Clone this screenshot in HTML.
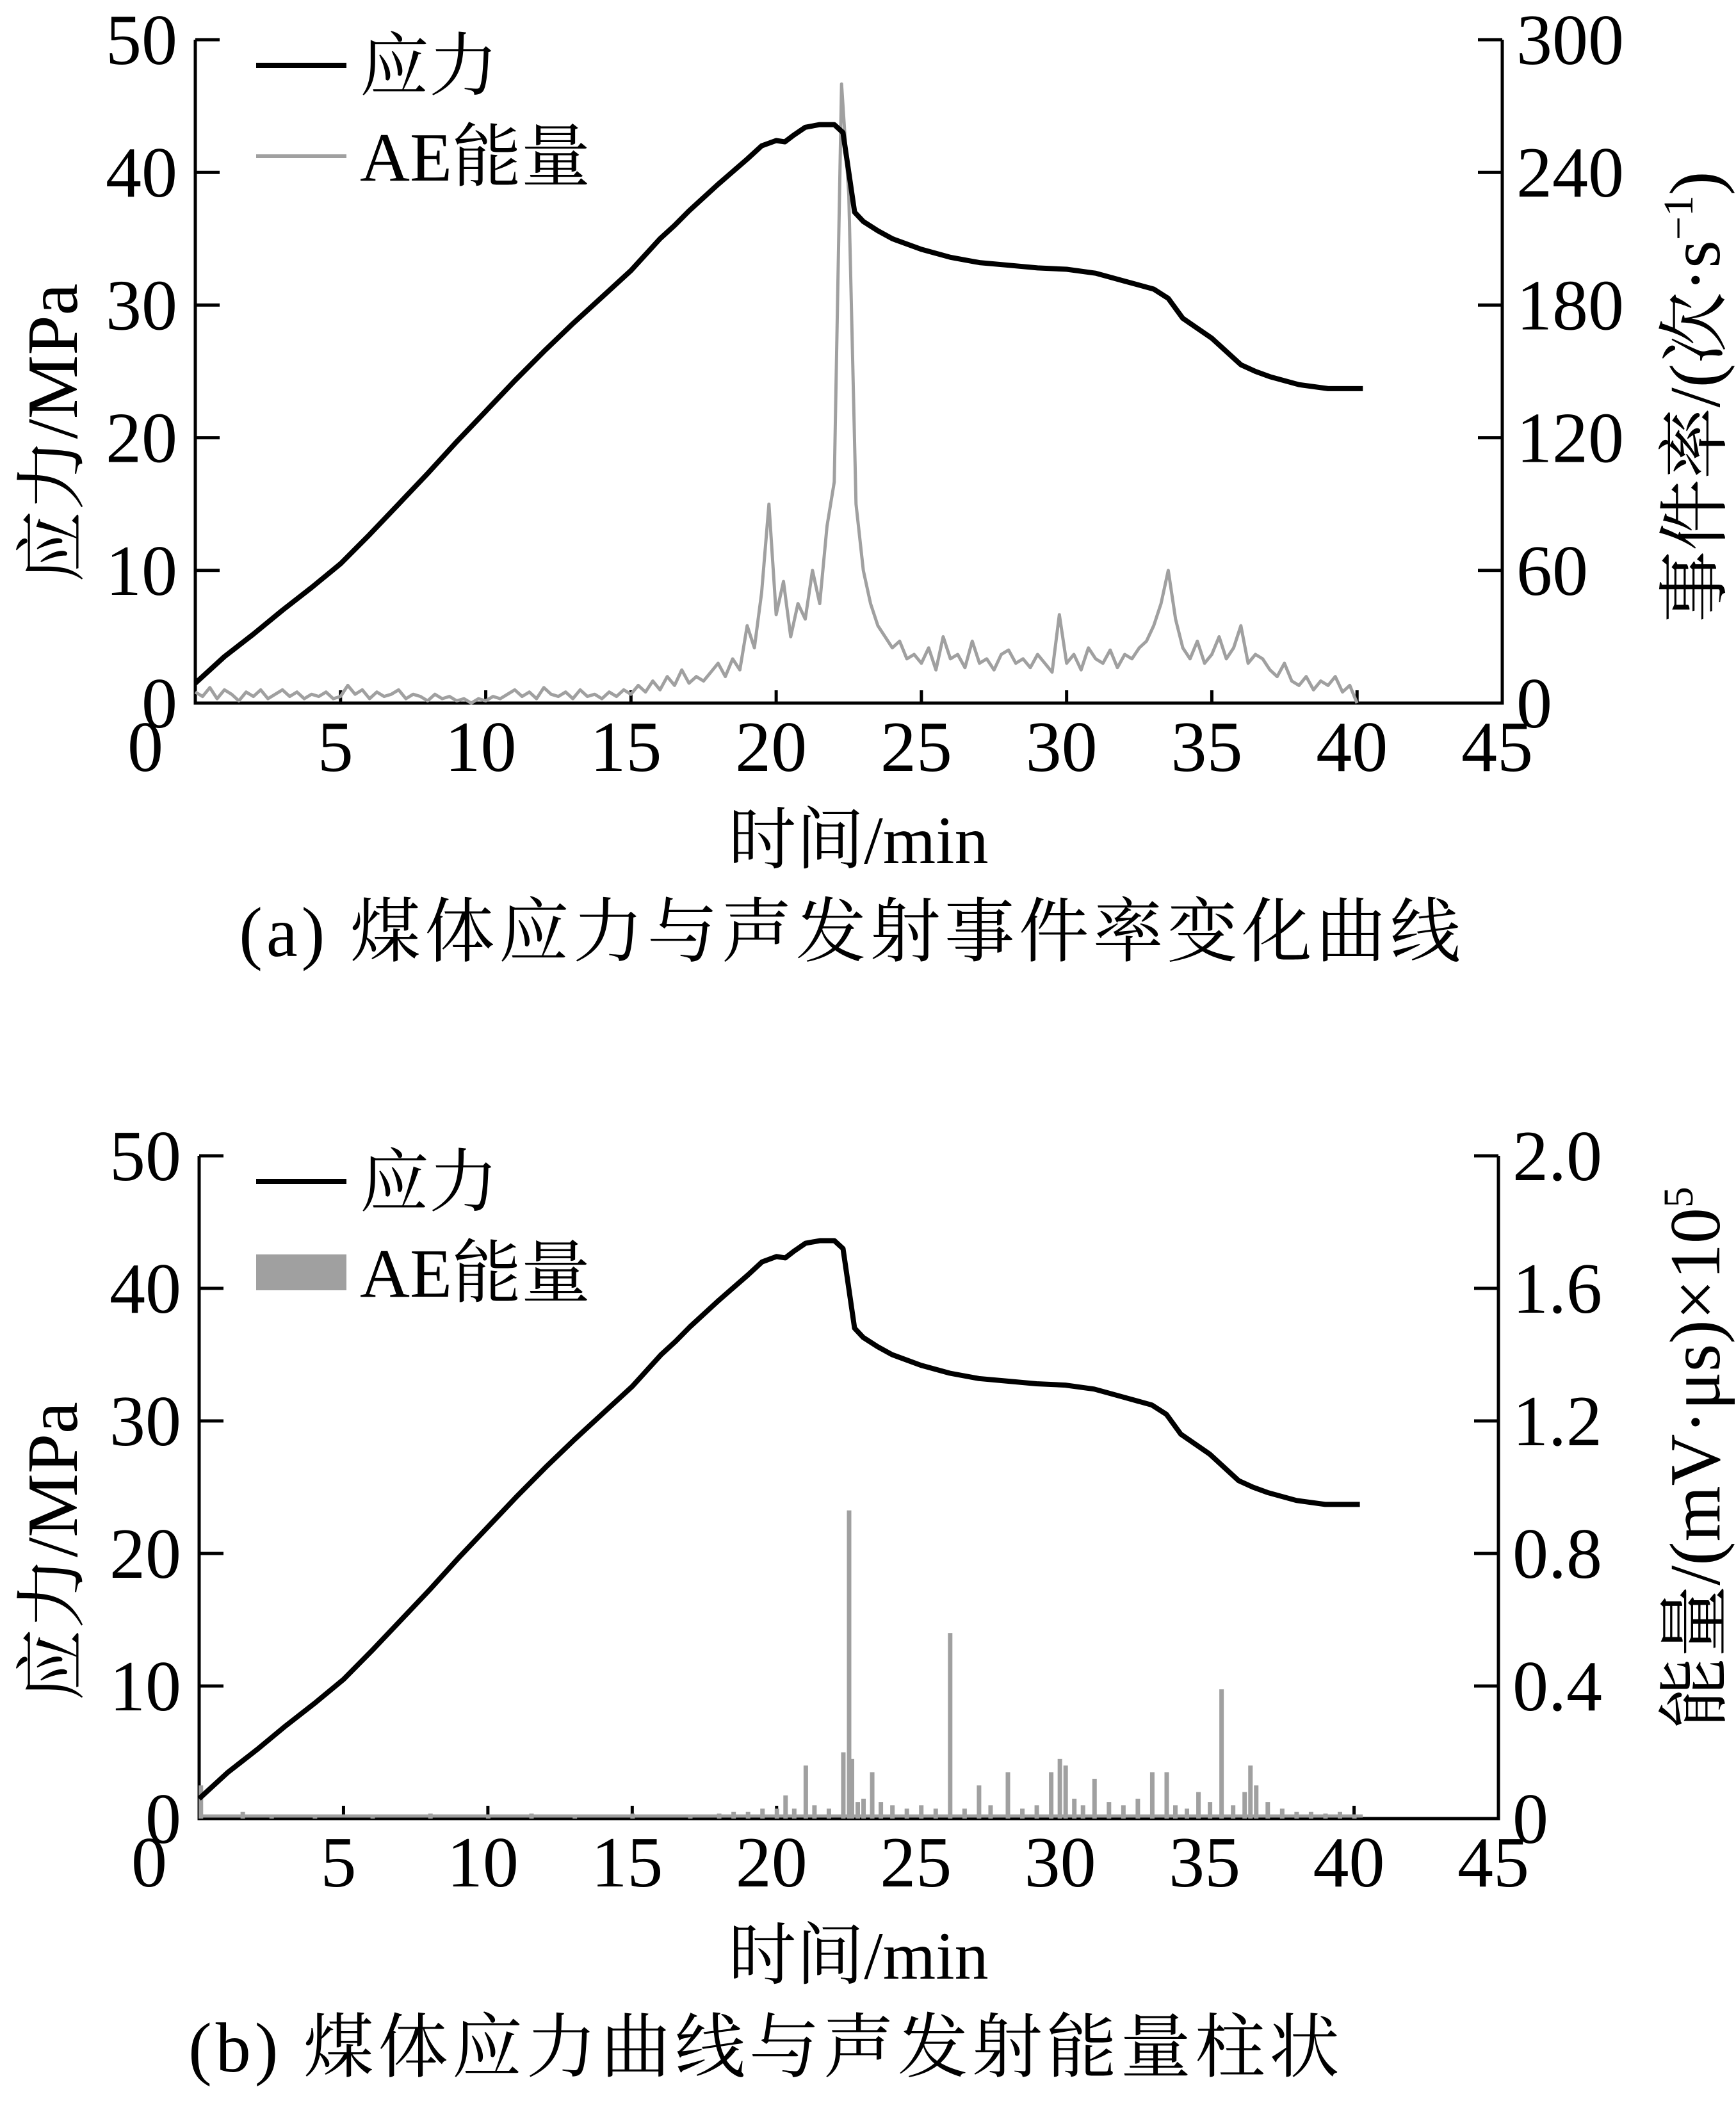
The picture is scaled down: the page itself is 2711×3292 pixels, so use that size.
<!DOCTYPE html>
<html><head><meta charset="utf-8"><style>
html,body{margin:0;padding:0;background:#fff}
svg text{font-family:"Liberation Serif","Noto Serif CJK SC",serif;fill:#000}
</style></head><body>
<svg id="fig" xmlns="http://www.w3.org/2000/svg" width="2711" height="3287" viewBox="0 0 2711 3287">
<g id="pa"></g>
<g id="pb"></g>
</svg>
<script>
const xTicks=[0,5,10,15,20,25,30,35,40,45];
const yLeftTicks=[0,10,20,30,40,50];
const yRightTicksA=["0","60","120","180","240","300"];
const yRightTicksB=["0","0.4","0.8","1.2","1.6","2.0"];
const stressT=[0,1,2,3,4,5,6,7,8,9,10,11,12,13,14,15,16,16.5,17,18,19,19.5,20,20.3,20.6,21,21.5,22,22.3,22.5,22.7,23,23.5,24,25,26,27,28,29,30,31,32,33,33.5,34,35,36,36.5,37,38,39,40.2];
const stressV=[1.5,3.5,5.2,7,8.7,10.5,12.7,15,17.3,19.7,22,24.3,26.5,28.6,30.6,32.6,35,36,37.1,39.1,41,42,42.4,42.3,42.8,43.4,43.6,43.6,43,40,37,36.3,35.6,35,34.2,33.6,33.2,33,32.8,32.7,32.4,31.8,31.2,30.5,29,27.5,25.5,25,24.6,24,23.7,23.7];
const aeStep=0.25;
const aeRate=[5,3,7,2,6,4,1,5,3,6,2,4,6,3,5,2,4,3,5,2,
3,8,4,6,2,5,3,4,6,2,4,3,1,4,2,3,1,2,0,2,
1,3,2,4,6,3,5,2,7,4,3,5,2,6,3,4,2,5,3,6,
4,8,5,10,6,12,8,15,9,12,10,14,18,12,20,15,
35,25,50,90,40,55,30,45,38,60,45,80,
100,280,230,90,
60,45,35,30,25,28,20,22,
18,25,15,30,20,22,16,28,18,20,15,22,24,18,20,16,22,18,14,40,
18,22,15,25,20,18,24,16,22,20,25,28,
35,45,60,38,
25,20,28,18,22,30,20,25,35,18,22,20,
15,12,18,10,8,12,6,10,8,12,5,8,
0];
const barT=[0.05,1.5,2.5,4,6,8,10,11.5,13,15,17,18,18.5,19,19.5,20,20.3,20.6,21,21.3,21.8,22.3,22.5,22.6,22.8,23,23.3,23.6,24,24.5,25,25.5,26,26.5,27,27.4,28,28.5,29,29.5,29.8,30,30.3,30.6,31,31.5,32,32.5,33,33.5,33.8,34.2,34.6,35,35.4,35.8,36.2,36.4,36.6,37,37.5,38,38.5,39,39.5,40];
const barV=[0.1,0.02,0.01,0.01,0.01,0.015,0.01,0.015,0.01,0.015,0.01,0.015,0.02,0.02,0.03,0.03,0.07,0.03,0.16,0.04,0.03,0.2,0.93,0.18,0.05,0.06,0.14,0.05,0.04,0.03,0.04,0.03,0.56,0.03,0.1,0.04,0.14,0.03,0.04,0.14,0.18,0.16,0.06,0.04,0.12,0.05,0.04,0.06,0.14,0.14,0.04,0.03,0.08,0.05,0.39,0.04,0.08,0.16,0.1,0.05,0.03,0.02,0.02,0.015,0.02,0.01];
const NS="http://www.w3.org/2000/svg";
function mk(p,tag,attrs,txt){const e=document.createElementNS(NS,tag);for(const k in attrs)e.setAttribute(k,attrs[k]);if(txt!==undefined)e.textContent=txt;p.appendChild(e);return e;}
function panel(g,L,R,T,B,rightTicks,rightTitle,caption,capX,isB,lOff,rOff){
  const sx=t=>L+(R-L)*t/45;
  const sy=v=>B-(B-T)*v/50;
  let e=mk(g,'path',{d:`M${L} ${T}V${B}H${R}V${T}`,fill:'none',stroke:'#000','stroke-width':5});
  
  
  for(const t of xTicks){
    if(t>0&&t<45){e=mk(g,'line',{x1:sx(t),x2:sx(t),y1:B,y2:B-20,stroke:'#000','stroke-width':5});
    
    }
    const dx=t===0?-78:-8;
    e=mk(g,'text',{x:sx(t)+dx,y:B+106,'font-size':112,'text-anchor':'middle'},String(t));
    
    
  }
  yLeftTicks.forEach((v,i)=>{
    const y=B-(B-T)*i/5;
    e=mk(g,'line',{x1:L,x2:L+38,y1:y,y2:y,stroke:'#000','stroke-width':5});
    
    
    e=mk(g,'line',{x1:R,x2:R-38,y1:y,y2:y,stroke:'#000','stroke-width':5});
    
    
    e=mk(g,'text',{x:L-28,y:y+38,'font-size':112,'text-anchor':'end'},String(v));
    
    
    e=mk(g,'text',{x:R+22,y:y+38,'font-size':112,'text-anchor':'start'},rightTicks[i]);
    
    
  });
  const mid=(T+B)/2;
  e=mk(g,'text',{x:0,y:0,'font-size':112,'text-anchor':'middle',transform:`translate(120 ${mid+lOff}) rotate(-90)`},'应力/MPa');
  
  
  e=mk(g,'text',{x:0,y:0,'font-size':112,'text-anchor':'middle',transform:`translate(2685 ${mid+rOff}) rotate(-90)`},'');
  e.innerHTML=rightTitle;
  
  
  e=mk(g,'text',{x:(L+R)/2+15,y:B+250,'font-size':106,'text-anchor':'middle'},'时间/min');
  
  
  e=mk(g,'text',{x:capX,y:B+395,'font-size':110,'text-anchor':'middle','letter-spacing':6},caption);
  
  
  if(!isB){
    const syr=v=>B-(B-T)*v/300;
    const pts=aeRate.map((v,i)=>`${sx(i*aeStep).toFixed(1)},${syr(v).toFixed(1)}`).join(' ');
    e=mk(g,'polyline',{points:pts,fill:'none',stroke:'#a0a0a0','stroke-width':5,'stroke-linejoin':'round'});
    
    
  } else {
    const syr=v=>B-(B-T)*v/2;
    e=mk(g,'line',{x1:L,x2:sx(40.3),y1:B-4,y2:B-4,stroke:'#a0a0a0','stroke-width':5});
    
    
    barT.forEach((t,i)=>{
      const x=sx(t),y=syr(barV[i]);
      const b=mk(g,'rect',{x:x-3,y:y,width:7,height:B-y,fill:'#a0a0a0'});
      
      
    });
  }
  const sp=stressT.map((t,i)=>`${sx(t).toFixed(1)},${sy(stressV[i]).toFixed(1)}`).join(' ');
  e=mk(g,'polyline',{points:sp,fill:'none',stroke:'#000','stroke-width':8,'stroke-linejoin':'round'});
  
  
  const ly=T+40;
  e=mk(g,'line',{x1:400,x2:541,y1:ly,y2:ly,stroke:'#000','stroke-width':8});
  
  
  e=mk(g,'text',{x:562,y:ly+38,'font-size':108},'应力');
  
  
  const ly2=T+182;
  if(!isB){e=mk(g,'line',{x1:400,x2:541,y1:ly2,y2:ly2,stroke:'#a0a0a0','stroke-width':6});}
  else{e=mk(g,'rect',{x:400,y:ly2-28,width:141,height:56,fill:'#a0a0a0'});}
  
  
  e=mk(g,'text',{x:562,y:ly2+38,'font-size':108},'AE能量');
  
  
}
panel(document.getElementById('pa'),305,2346,62,1098,yRightTicksA,'事件率/(次·s<tspan font-size="66" dy="-42">−1</tspan><tspan dy="42">)</tspan>','(a) 煤体应力与声发射事件率变化曲线',1330,false,96,40);
panel(document.getElementById('pb'),311,2340,1805,2840,yRightTicksB,'能量/(mV·μs)×10<tspan font-size="66" dy="-42">5</tspan>','(b) 煤体应力曲线与声发射能量柱状',1196,true,100,-46);
</script>
</body></html>
